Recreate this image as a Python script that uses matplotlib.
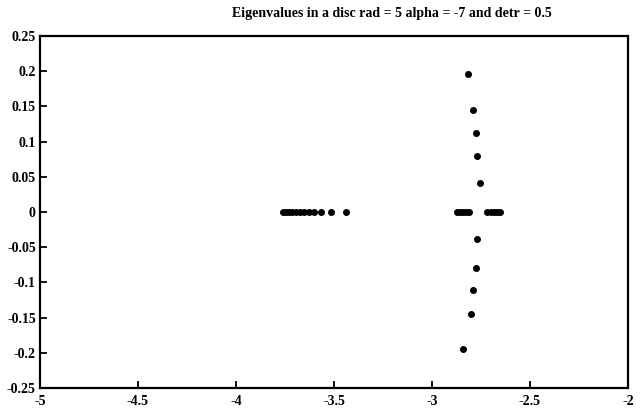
import matplotlib
matplotlib.use("Agg")
import matplotlib.pyplot as plt

left_re = [-3.760, -3.745, -3.730, -3.714, -3.694, -3.673, -3.653, -3.628,
           -3.602, -3.566, -3.515, -3.439]
left_im = [0.0] * len(left_re)

axis_re = [-2.872, -2.857, -2.842, -2.826, -2.811,
           -2.717, -2.700, -2.684, -2.667, -2.651]
axis_im = [0.0] * len(axis_re)

vert_re = [-2.816, -2.791, -2.776, -2.770, -2.755,
           -2.770, -2.776, -2.791, -2.801, -2.842]
vert_im = [0.196, 0.145, 0.112, 0.080, 0.041,
           -0.038, -0.080, -0.111, -0.145, -0.195]

xticks = [-5, -4.5, -4, -3.5, -3, -2.5, -2]
xtick_labels = ['-5', '-4.5', '-4', '-3.5', '-3', '-2.5', '-2']
yticks = [0.25, 0.2, 0.15, 0.1, 0.05, 0, -0.05, -0.1, -0.15, -0.2, -0.25]
ytick_labels = ['0.25', '0.2', '0.15', '0.1', '0.05', '0', '-0.05', '-0.1',
                '-0.15', '-0.2', '-0.25']

plt.rcParams['font.family'] = ['Liberation Serif', 'DejaVu Serif']
plt.rcParams['font.weight'] = 'bold'

fig = plt.figure(figsize=(6.42, 4.12), dpi=100)
ax = fig.add_axes([40 / 642, 1 - 388 / 412, 588 / 642, 352 / 412])

ms = 4
ax.plot(left_re, left_im, 'o', color='black', markersize=ms)
ax.plot(axis_re, axis_im, 'o', color='black', markersize=ms)
ax.plot(vert_re, vert_im, 'o', color='black', markersize=ms)

ax.set_xlim(-5, -2)
ax.set_ylim(-0.25, 0.25)
ax.set_xticks(xticks)
ax.set_xticklabels(xtick_labels)
ax.set_yticks(yticks)
ax.set_yticklabels(ytick_labels)
ax.tick_params(direction='in', length=5, width=1.3, labelsize=10)
ax.tick_params(axis='x', pad=5)
ax.tick_params(axis='y', pad=3)
for lab in ax.get_xticklabels() + ax.get_yticklabels():
    lab.set_fontweight('bold')
for sp in ax.spines.values():
    sp.set_linewidth(1.6)

fig.text(392 / 642, 1 - 14 / 412,
         'Eigenvalues in a disc rad = 5 alpha = -7 and detr = 0.5',
         fontsize=10, fontweight='bold', ha='center', va='center')

fig.savefig('out.png', dpi=100)
